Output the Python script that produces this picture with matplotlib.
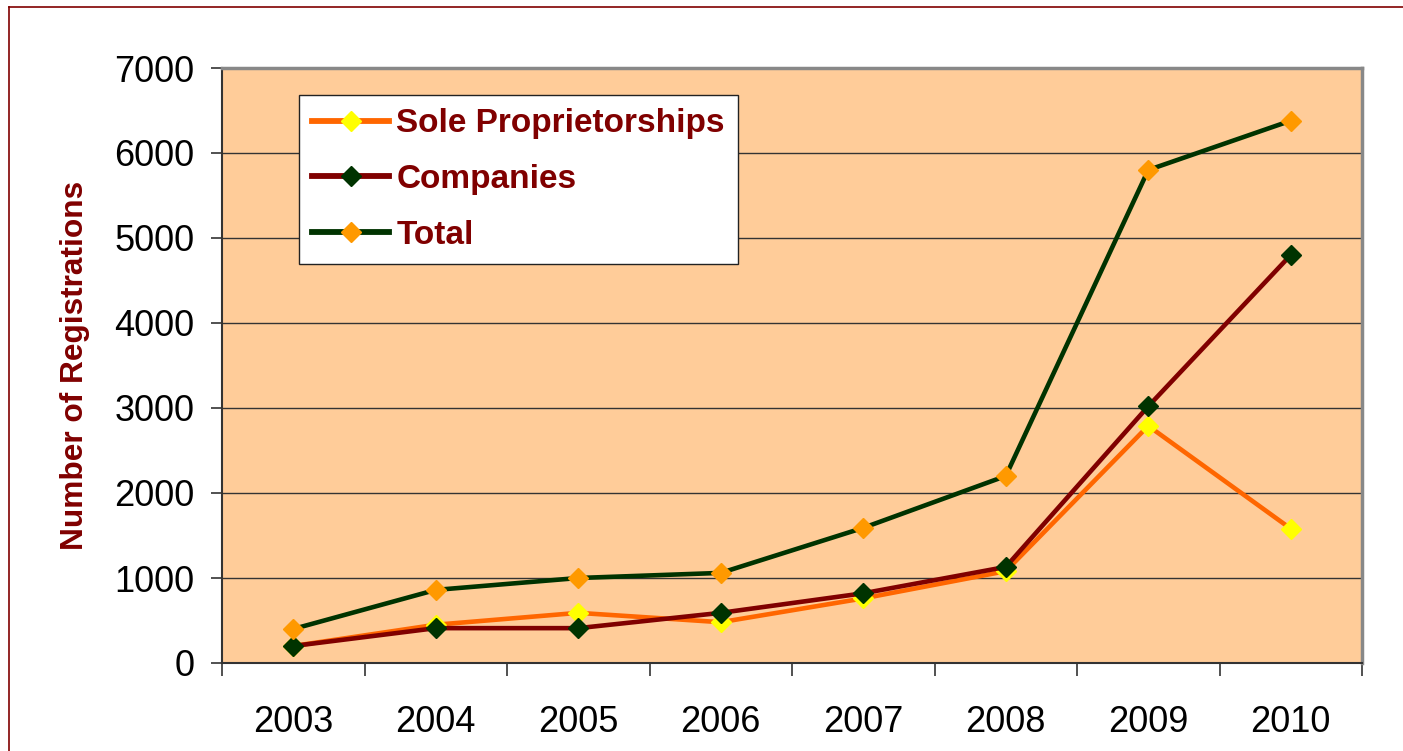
import matplotlib
matplotlib.use("Agg")
import matplotlib.pyplot as plt

years = ["2003", "2004", "2005", "2006", "2007", "2008", "2009", "2010"]
sole = [200, 450, 590, 480, 760, 1080, 2790, 1580]
companies = [200, 410, 410, 590, 820, 1130, 3020, 4800]
total = [400, 860, 1000, 1060, 1590, 2200, 5800, 6380]
yticks = [0, 1000, 2000, 3000, 4000, 5000, 6000, 7000]

plt.rcParams['font.family'] = ['Liberation Sans', 'DejaVu Sans']

fig = plt.figure(figsize=(14.03, 7.51), dpi=100)
fig.patch.set_facecolor('white')
fig.add_artist(plt.Line2D([9/1403, 9/1403], [0, 1 - 7/751], transform=fig.transFigure,
                          color='#800000', lw=1.2))
fig.add_artist(plt.Line2D([9/1403, 1], [1 - 7/751, 1 - 7/751], transform=fig.transFigure,
                          color='#800000', lw=1.2))

ax = fig.add_axes([222/1403, 1 - 663/751, (1362 - 222)/1403, (663 - 68)/751])
ax.set_facecolor('#FFCC99')

x = list(range(len(years)))
lw = 3.3
ms = 10
ax.plot(x, sole, color='#FF6600', lw=lw, marker='D', ms=ms, mfc='#FFFF00', mec='#FFFF00',
        label='Sole Proprietorships', zorder=3)
ax.plot(x, companies, color='#800000', lw=lw, marker='D', ms=ms, mfc='#003300', mec='#003300',
        label='Companies', zorder=4)
ax.plot(x, total, color='#003300', lw=lw, marker='D', ms=ms, mfc='#FF9900', mec='#FF9900',
        label='Total', zorder=5)

ax.set_xlim(-0.5, len(years) - 0.5)
ax.set_ylim(0, 7000)
ax.set_yticks(yticks)
ax.set_yticklabels([str(v) for v in yticks])
for v in yticks[1:-1]:
    ax.axhline(v, color='#333333', lw=1.0, zorder=1)

ax.set_xticks([i - 0.5 for i in range(len(years) + 1)])
ax.set_xticklabels([])
ax.set_xticks(x, minor=True)
ax.set_xticklabels(years, minor=True)
ax.tick_params(axis='x', which='major', direction='out', length=9, width=1.2, color='#333333')
ax.tick_params(axis='x', which='minor', length=0, pad=30, labelsize=26)
ax.tick_params(axis='y', direction='out', length=8, width=1.2, color='#333333', pad=12, labelsize=26)

for side in ['left', 'bottom']:
    ax.spines[side].set_color('#333333')
    ax.spines[side].set_linewidth(1.5)
for side in ['top', 'right']:
    ax.spines[side].set_color('#888888')
    ax.spines[side].set_linewidth(2.5)

ax.set_ylabel('Number of Registrations', fontsize=22.8, fontweight='bold', color='#800000', labelpad=17)

leg = ax.legend(loc='upper left', bbox_to_anchor=(299/1403, 1 - 95/751), bbox_transform=fig.transFigure,
                borderaxespad=0, fancybox=False, framealpha=1, edgecolor='#222222',
                prop={'size': 24, 'weight': 'bold'}, handlelength=2.3, handletextpad=0.22,
                labelspacing=0.74, borderpad=0.4)
leg.get_frame().set_linewidth(1.0)
for t in leg.get_texts():
    t.set_color('#800000')
for h in leg.get_lines():
    h.set_linewidth(4.2)

fig.savefig('out.png', dpi=100)
